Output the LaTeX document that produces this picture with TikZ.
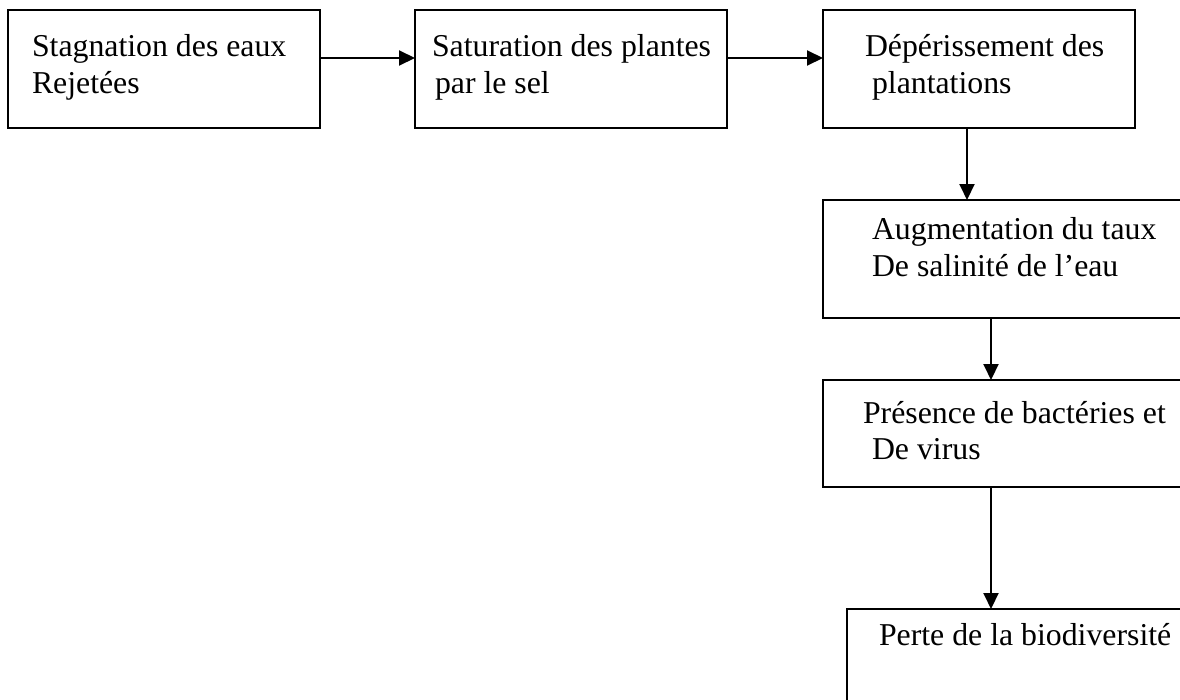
\documentclass[tikz,border=0pt]{standalone}
\usepackage{fontspec}
\setmainfont{Liberation Serif}
\usetikzlibrary{arrows.meta}
\begin{document}
\begin{tikzpicture}[x=1pt,y=-1pt,
  box/.style={draw=black,line width=2.2pt,rectangle,inner sep=0pt,outer sep=0pt,anchor=north west},
  txt/.style={anchor=base west,inner sep=0pt,outer sep=0pt,font=\fontsize{31.8}{37}\selectfont},
  arr/.style={line width=2pt,-{Triangle[length=16pt,width=15pt]}}]
  \fill[white] (0,0) rectangle (1180,699);
  \clip (0,0) rectangle (1180,699);
  \useasboundingbox (0,0) rectangle (1180,699);

  % boxes
  \node[box,minimum width=312pt,minimum height=118pt] (b1) at (8,10) {};
  \node[box,minimum width=312pt,minimum height=118pt] (b2) at (415,10) {};
  \node[box,minimum width=312pt,minimum height=118pt] (b3) at (823,10) {};
  \node[box,minimum width=380pt,minimum height=118pt] (b4) at (823,200) {};
  \node[box,minimum width=380pt,minimum height=107pt] (b5) at (823,380) {};
  \node[box,minimum width=360pt,minimum height=120pt] (b6) at (847,609) {};

  % labels
  \node[txt] (t1a) at (32,56) {Stagnation des eaux};
  \node[txt] (t1b) at (32,93) {Rejetées};
  \node[txt] (t2a) at (432,56) {Saturation des plantes};
  \node[txt] (t2b) at (435,93) {par le sel};
  \node[txt] (t3a) at (865,56) {Dépérissement des};
  \node[txt] (t3b) at (872,93) {plantations};
  \node[txt] (t4a) at (872,239) {Augmentation du taux};
  \node[txt] (t4b) at (872,276) {De salinité de l’eau};
  \node[txt] (t5a) at (863,423) {Présence de bactéries et};
  \node[txt] (t5b) at (872,459) {De virus};
  \node[txt] (t6a) at (879,645) {Perte de la biodiversité};

  % connectors
  \draw[arr] ([yshift=-48pt]b1.north east) coordinate (h1) -- (h1 -| b2.west);
  \draw[arr] ([yshift=-48pt]b2.north east) coordinate (h2) -- (h2 -| b3.west);
  \draw[arr] ([xshift=144pt]b3.south west) coordinate (v1) -- (v1 |- b4.north);
  \draw[arr] ([xshift=168pt]b4.south west) coordinate (v2) -- (v2 |- b5.north);
  \draw[arr] ([xshift=168pt]b5.south west) coordinate (v3) -- (v3 |- b6.north);
\end{tikzpicture}
\end{document}
